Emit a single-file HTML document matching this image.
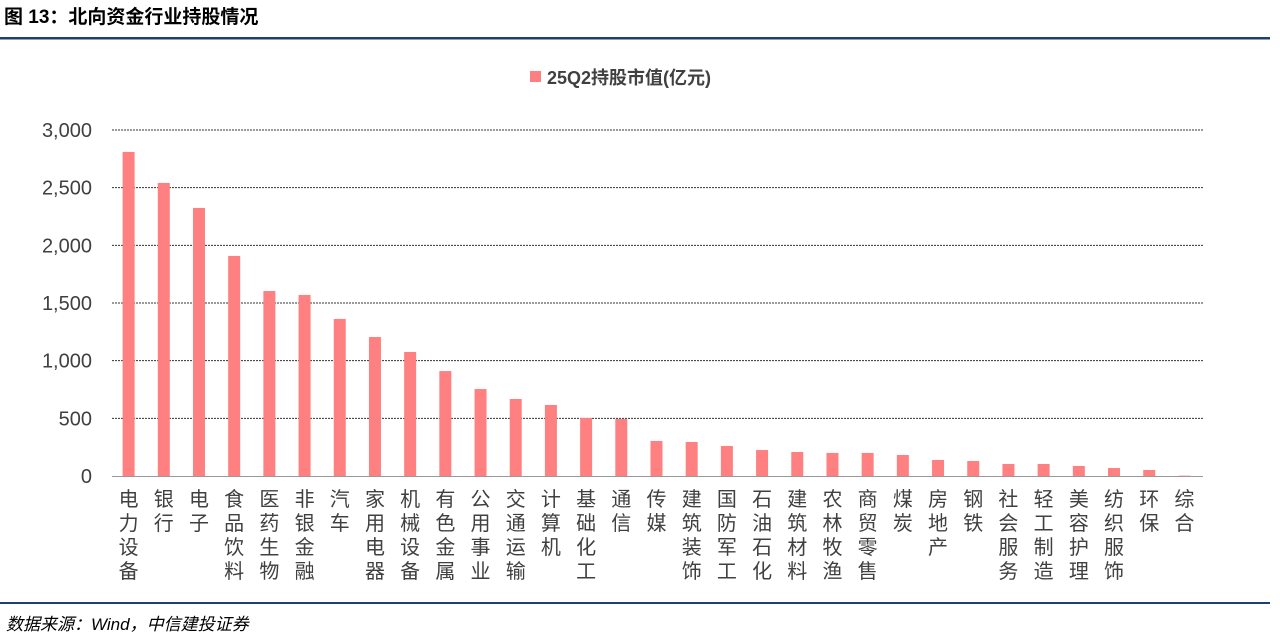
<!DOCTYPE html>
<html><head><meta charset="utf-8"><style>
body{margin:0;width:1280px;height:639px;background:#fff;overflow:hidden;font-family:"Liberation Sans","Noto Sans CJK SC",sans-serif}
</style></head><body>
<svg width="1280" height="639" id="svg">
<text x="4" y="23" font-size="19" font-weight="bold" fill="#000" font-family="Liberation Sans, Noto Sans CJK SC, sans-serif">图 13：北向资金行业持股情况</text>
<rect x="0" y="37" width="1270" height="2.5" fill="#1f3f74"/>
<rect x="0" y="602" width="1270" height="2" fill="#1f3f74"/>
<text x="6" y="630" font-size="17" font-style="italic" fill="#000">数据来源：Wind，中信建投证券</text>
<g>
<rect x="530" y="71" width="11" height="11" fill="#ff8080"/>
<text x="547" y="84" font-size="18" font-weight="bold" fill="#404040">25Q2持股市值(亿元)</text>
</g>
<g id="plot"></g>
</svg>
<script>
const categories=["电力设备","银行","电子","食品饮料","医药生物","非银金融","汽车","家用电器","机械设备","有色金属","公用事业","交通运输","计算机","基础化工","通信","传媒","建筑装饰","国防军工","石油石化","建筑材料","农林牧渔","商贸零售","煤炭","房地产","钢铁","社会服务","轻工制造","美容护理","纺织服饰","环保","综合"];
const values=[2810,2541,2324,1908,1604,1570,1362,1205,1075,910,754,668,616,503,494,304,295,260,225,208,200,200,182,139,130,104,104,87,69,52,3];
const ticks=[0,500,1000,1500,2000,2500,3000];
const tickLabels=["0","500","1,000","1,500","2,000","2,500","3,000"];
const NS="http://www.w3.org/2000/svg";
const g=document.getElementById('plot');
const x0=112,x1=1203,y0=476,y1=130,ymax=3000;
const step=(x1-x0)/categories.length;
const y=v=>y0-(v/ymax)*(y0-y1);
const xc=i=>x0+step*(i+0.5)-1;
function mk(t,a){const e=document.createElementNS(NS,t);for(const k in a)e.setAttribute(k,a[k]);g.appendChild(e);return e;}
ticks.forEach((t,i)=>{
  if(t>0){const l=mk('line',{x1:x0,x2:x1,y1:y(t),y2:y(t),stroke:'#333','stroke-width':1,'stroke-dasharray':'2,1'});
  
  }
  const tx=mk('text',{x:92,y:y(t)+7,'text-anchor':'end','font-size':20,fill:'#404040'});
  tx.textContent=tickLabels[i];
  
  
});
const ax=mk('line',{x1:x0,x2:x1,y1:y0+0.5,y2:y0+0.5,stroke:'#999','stroke-width':1});


categories.forEach((c,i)=>{
  const r=mk('rect',{x:xc(i)-6,y:y(values[i]),width:12,height:y0-y(values[i]),fill:'#ff8080'});
  
  
  [...c].forEach((ch,j)=>{
    const t=mk('text',{x:xc(i),y:506+j*24,'text-anchor':'middle','font-size':20,fill:'#404040'});
    t.textContent=ch;
    
    
  });
});
</script>
</body></html>
